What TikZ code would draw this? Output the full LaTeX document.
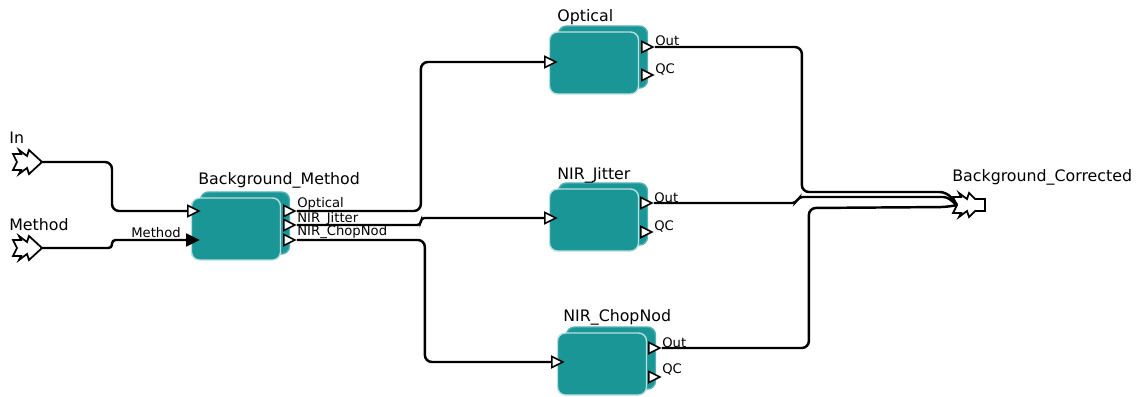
\documentclass[tikz,border=0pt]{standalone}
\usepackage{fontspec}
\setmainfont{DejaVu Sans}
\usetikzlibrary{shapes.geometric}
\definecolor{kteal}{RGB}{27,150,151}
\tikzset{
  actor/.style={draw=kteal!30!white, line width=0.8pt, fill=kteal, rounded corners=4.5pt,
    minimum width=1.78cm, minimum height=1.24cm, inner sep=0pt},
  actorbk/.style={actor, draw=kteal!75!white},
  port/.style={isosceles triangle, isosceles triangle stretches, draw=black, line width=0.9pt,
    fill=white, inner sep=0pt, minimum width=0.22cm, minimum height=0.22cm, anchor=west},
  mport/.style={port, fill=black},
  wire/.style={line width=1.4pt, rounded corners=4pt},
  title/.style={font=\fontsize{9}{10}\selectfont, anchor=base west, inner sep=0pt},
  plabel/.style={font=\fontsize{7.5}{8}\selectfont, anchor=base west, inner sep=0pt},
  extin/.pic={
    \draw[line width=1pt, fill=white] (0,-8) -- (8,-8) -- (6,-12) -- (14,-6) -- (16,-12) -- (29,0)
      -- (16,12) -- (14,6) -- (6,12) -- (8,8) -- (0,8) -- (4,0) -- cycle;
  },
  extout/.pic={
    \draw[line width=1pt, fill=white] (0,-8) -- (8,-8) -- (6,-12) -- (14,-6) -- (16,-12) -- (22,-6)
      -- (32,-6) -- (32,6) -- (22,6) -- (16,12) -- (14,6) -- (6,12) -- (8,8) -- (0,8) -- (4,0) -- cycle;
  }
}
\begin{document}
\begin{tikzpicture}[x=0.02cm, y=-0.02cm]
  \useasboundingbox (0,0) rectangle (1148,396);

  % actors
  \node[actorbk] (bm-bk) at (245,223) {};
  \node[actor] (bm) at (236,229) {};
  \node[actorbk] (op-bk) at (603,57) {};
  \node[actor] (op) at (594,63) {};
  \node[actorbk] (nj-bk) at (603,214) {};
  \node[actor] (nj) at (594,220) {};
  \node[actorbk] (nc-bk) at (611,358) {};
  \node[actor] (nc) at (602,364) {};

  \node[title] (bm-t) at (198,184) {Background\_Method};
  \node[title] (op-t) at (557,21) {Optical};
  \node[title] (nj-t) at (557,179) {NIR\_Jitter};
  \node[title] (nc-t) at (563,321) {NIR\_ChopNod};

  % external ports
  \pic (in-icon) at (13,162) {extin};
  \coordinate (in) at (42,162);
  \node[title] (in-t) at (9,143) {In};
  \pic (me-icon) at (13,248) {extin};
  \coordinate (me) at (42,248);
  \node[title] (me-t) at (9,230) {Method};
  \pic (bc-icon) at (953,205) {extout};
  \coordinate (bc) at (957,205);
  \node[title] (bc-t) at (952,181) {Background\_Corrected};

  % ports
  \node[port] (bm-in) at (187,211) {};
  \node[mport] (bm-me) at (186,240) {};
  \node[port] (bm-op) at (283,211) {};
  \node[port] (bm-nj) at (283,225) {};
  \node[port] (bm-nc) at (283,240) {};
  \node[port] (op-in) at (544,62) {};
  \node[port] (op-out) at (641,47) {};
  \node[port] (op-qc) at (641,75) {};
  \node[port] (nj-in) at (544,218) {};
  \node[port] (nj-out) at (640,203) {};
  \node[port] (nj-qc) at (640,232) {};
  \node[port] (nc-in) at (551,362) {};
  \node[port] (nc-out) at (648,348) {};
  \node[port] (nc-qc) at (648,377) {};

  \node[plabel] (me-l) at (131,237) {Method};
  \node[plabel] (bm-opl) at (297,207) {Optical};
  \node[plabel] (bm-njl) at (297,222) {NIR\_Jitter};
  \node[plabel] (bm-ncl) at (297,235) {NIR\_ChopNod};
  \node[plabel] (op-outl) at (655,45) {Out};
  \node[plabel] (op-qcl) at (655,73) {QC};
  \node[plabel] (nj-outl) at (654,202) {Out};
  \node[plabel] (nj-qcl) at (654,230) {QC};
  \node[plabel] (nc-outl) at (662,347) {Out};
  \node[plabel] (nc-qcl) at (662,373) {QC};

  % wires
  \draw[wire] (in) -- ++(70,0) |- (bm-in.west);
  \draw[wire, rounded corners=2pt] (me) -- ++(70,0) |- (bm-me.west);
  \draw[wire] (bm-op.east) -- ++(124,0) |- (op-in.west);
  \draw[wire, rounded corners=2pt] (bm-nj.east) -- ++(124,0) |- (nj-in.west);
  \draw[wire] (bm-nc.east) -- ++(128,0) |- (nc-in.west);
  \draw[wire] (op-out.east) -- ++(147,0) -- ++(0,145) -- ++(145,0) [sharp corners] -- (bc);
  \draw[wire, rounded corners=2pt] (nj-out.east) -- ++(142,0) -- ++(3,-6) -- ++(148,0) [sharp corners] -- (bc);
  \draw[wire] (nc-out.east) -- ++(147,0) -- ++(0,-140) -- ++(138,-1) [sharp corners] -- (bc);
\end{tikzpicture}
\end{document}
